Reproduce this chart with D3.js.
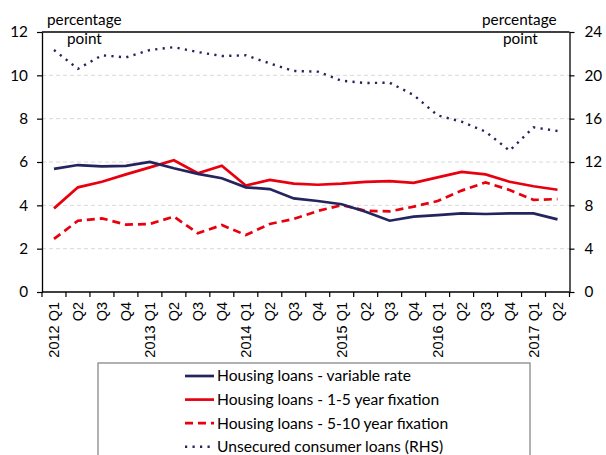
<!DOCTYPE html>
<html><head><meta charset="utf-8">
<script src="https://cdn.jsdelivr.net/npm/d3@7"></script>
<style>body{margin:0;background:#fff}svg{display:block}</style>
</head><body>
<svg id="chart" width="606" height="455"></svg>
<script>
const quarters = ["2012 Q1","Q2","Q3","Q4","2013 Q1","Q2","Q3","Q4","2014 Q1","Q2","Q3","Q4","2015 Q1","Q2","Q3","Q4","2016 Q1","Q2","Q3","Q4","2017 Q1","Q2"];
const variableRate = [5.68,5.86,5.80,5.82,6.00,5.71,5.45,5.25,4.83,4.75,4.32,4.20,4.05,3.70,3.29,3.48,3.55,3.63,3.60,3.63,3.63,3.35];
const fix1to5 = [3.86,4.83,5.09,5.43,5.75,6.08,5.48,5.83,4.91,5.17,5.00,4.95,5.00,5.08,5.12,5.04,5.29,5.54,5.43,5.09,4.88,4.72];
const fix5to10 = [2.45,3.29,3.40,3.11,3.14,3.48,2.71,3.09,2.63,3.14,3.37,3.74,4.01,3.75,3.72,3.94,4.20,4.68,5.06,4.71,4.25,4.29];
const consumerRHS = [22.34,20.60,21.85,21.66,22.34,22.60,22.15,21.78,21.85,21.10,20.40,20.34,19.50,19.29,19.32,18.18,16.30,15.72,14.80,13.05,15.20,14.86];
const leftTicks = [0,2,4,6,8,10,12];
const rightTicks = [0,4,8,12,16,20,24];
const seriesNames = ["Housing loans - variable rate","Housing loans - 1-5 year fixation","Housing loans - 5-10 year fixation","Unsecured consumer loans (RHS)"];

const svg = d3.select("#chart");
const L = 42, R = 569.5, T = 32, B = 292;
const font = "Lato, 'Open Sans', sans-serif";
const navy = "#24245e", red = "#e8000f";

const x = d3.scaleBand().domain(quarters.map((d,i)=>i)).range([L,R]);
const yL = d3.scaleLinear().domain([0,12]).range([B,T]);
const yR = d3.scaleLinear().domain([0,24]).range([B,T]);

// gridlines
svg.append("g").selectAll("line").data(leftTicks.filter(d=>d>0 && d<12)).join("line")
  .attr("x1",L).attr("x2",R).attr("y1",d=>yL(d)).attr("y2",d=>yL(d))
  .attr("stroke","#d9d9d9").attr("stroke-width",1).attr("stroke-dasharray","4,3");

// left axis
const gl = svg.append("g").attr("transform",`translate(${L},0)`)
  .call(d3.axisLeft(yL).tickValues(leftTicks).tickSize(5).tickSizeOuter(0).tickPadding(9));
gl.select(".domain").attr("stroke","#000").attr("stroke-width",1.3);
gl.selectAll(".tick line").attr("stroke","#000").attr("stroke-width",1.2);
gl.selectAll(".tick text").attr("font-family",font).attr("font-size",15.3).attr("fill","#000");

// right axis
const gr = svg.append("g").attr("transform",`translate(${R},0)`)
  .call(d3.axisRight(yR).tickValues(rightTicks).tickSize(5).tickSizeOuter(0).tickPadding(10));
gr.select(".domain").attr("stroke","#000").attr("stroke-width",1.3);
gr.selectAll(".tick line").attr("stroke","#000").attr("stroke-width",1.2);
gr.selectAll(".tick text").attr("font-family",font).attr("font-size",15.3).attr("fill","#000");

// top border
svg.append("line").attr("x1",L).attr("x2",R).attr("y1",T).attr("y2",T).attr("stroke","#000").attr("stroke-width",1.3);

// bottom axis with boundary ticks
const gb = svg.append("g");
gb.append("line").attr("x1",L).attr("x2",R).attr("y1",B).attr("y2",B).attr("stroke","#000").attr("stroke-width",1.3);
const bounds = d3.range(quarters.length+1).map(i => i===quarters.length ? x.range()[1] : x(i));
gb.selectAll("line.tk").data(bounds).join("line").attr("class","tk")
  .attr("x1",d=>d).attr("x2",d=>d).attr("y1",B).attr("y2",B+5).attr("stroke","#000").attr("stroke-width",1.2);
gb.selectAll("text").data(quarters).join("text")
  .attr("transform",(d,i)=>`translate(${x(i)+x.bandwidth()/2},302) rotate(-90)`)
  .attr("text-anchor","end").attr("dy","0.35em")
  .attr("font-family","'Liberation Sans', Arial, sans-serif").attr("font-size",14.5).attr("fill","#000")
  .text(d=>d);

// lines
const lineL = d3.line().x((d,i)=>x(i)+x.bandwidth()/2).y(d=>yL(d));
const lineR = d3.line().x((d,i)=>x(i)+x.bandwidth()/2).y(d=>yR(d));
const styles = [
  {data:variableRate, gen:lineL, color:navy, dash:null, w:2.7},
  {data:fix1to5, gen:lineL, color:red, dash:null, w:2.7},
  {data:fix5to10, gen:lineL, color:red, dash:"8,5", w:2.7},
  {data:consumerRHS, gen:lineR, color:navy, dash:"2.2,5.3", w:2.4}
];
styles.slice().reverse().forEach(s=>{
  svg.append("path").attr("d",s.gen(s.data)).attr("fill","none")
    .attr("stroke",s.color).attr("stroke-width",s.w).attr("stroke-dasharray",s.dash);
});

// axis titles
svg.append("text").attr("x",47).attr("y",25).attr("font-family",font).attr("font-size",15.3).text("percentage");
svg.append("text").attr("x",67).attr("y",44).attr("font-family",font).attr("font-size",15.3).text("point");
svg.append("text").attr("x",482).attr("y",25).attr("font-family",font).attr("font-size",15.3).text("percentage");
svg.append("text").attr("x",503).attr("y",44).attr("font-family",font).attr("font-size",15.3).text("point");

// legend
const lg = svg.append("g");
lg.append("rect").attr("x",98).attr("y",363).attr("width",432).attr("height",120)
  .attr("fill","#fff").attr("stroke","#7f7f7f").attr("stroke-width",1.2);
const rows = lg.selectAll("g").data(styles).join("g")
  .attr("transform",(d,i)=>`translate(0,${376 + i*23.6})`);
rows.append("line").attr("x1",185).attr("x2",214).attr("y1",0).attr("y2",0)
  .attr("stroke",d=>d.color).attr("stroke-width",d=>d.w).attr("stroke-dasharray",d=>d.dash);
rows.append("text").attr("x",217).attr("y",0).attr("dy","0.35em")
  .attr("font-family",font).attr("font-size",15.6).attr("fill","#000")
  .text((d,i)=>seriesNames[i]);
</script>
</body></html>
